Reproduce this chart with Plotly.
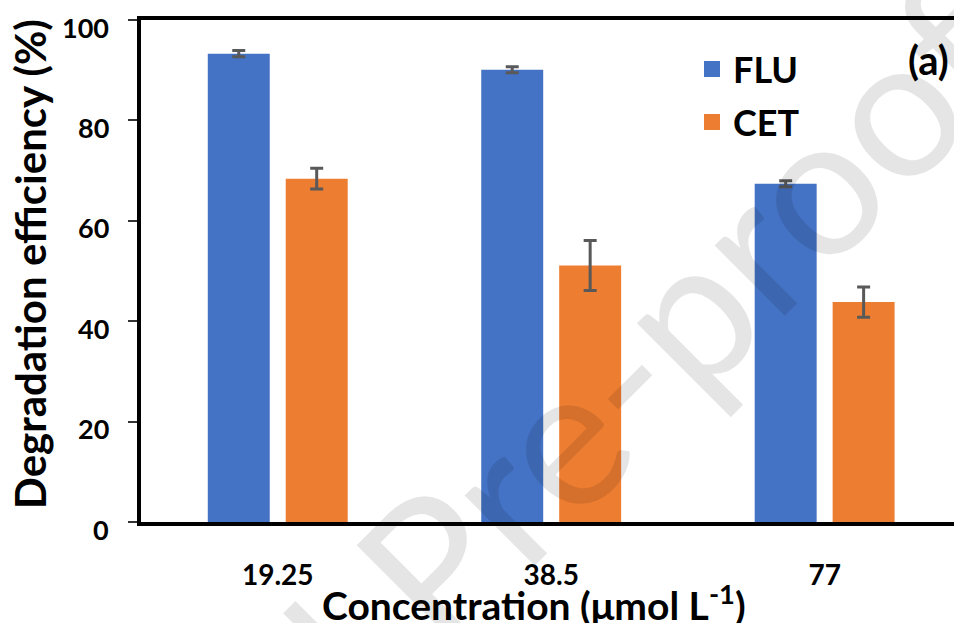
import plotly.graph_objects as go

categories = ["19.25", "38.5", "77"]
series_names = ["FLU", "CET"]
flu = [93.3, 90.1, 67.4]
cet = [68.4, 51.1, 43.8]
flu_err = [0.6, 0.6, 0.6]
cet_err = [2.05, 5.0, 3.0]
colors = ["#4472C4", "#ED7D31"]
y_ticks = [0, 20, 40, 60, 80, 100]

W, H = 954, 623
L, R, T, B = 141, 0, 20, 101
pw, ph = W - L - R, H - T - B


def px(x):
    return (x - L) / pw


def py(y):
    return (H - B - y) / ph


fig = go.Figure()
for name, vals, errs, col in [(series_names[0], flu, flu_err, colors[0]),
                              (series_names[1], cet, cet_err, colors[1])]:
    fig.add_trace(go.Bar(
        x=categories, y=vals, name=name, marker=dict(color=col, line=dict(width=0)),
        error_y=dict(type="data", array=errs, visible=True, color="#595959",
                     thickness=3, width=6.5),
        showlegend=False,
    ))

BOLD = dict(family="Lato", color="black", weight="bold")

fig.update_layout(
    width=W, height=H,
    margin=dict(l=L, r=R, t=T, b=B, pad=0),
    paper_bgcolor="white", plot_bgcolor="white",
    barmode="group", bargap=0.43, bargroupgap=0.205,
    xaxis=dict(type="category", range=[-0.5, 2.473], showline=True, linewidth=4,
               linecolor="black", mirror=True, ticks="", showgrid=False,
               tickfont=dict(size=28, **BOLD), ticklabelstandoff=25),
    yaxis=dict(range=[0, 100], tickvals=y_ticks, showline=True, linewidth=4,
               linecolor="black", ticks="outside", ticklen=9, tickwidth=1.5,
               tickcolor="#333333", showgrid=False, zeroline=False,
               showticklabels=False),
)

annotations = []
# y tick labels (drawn slightly below their ticks, as in the reference)
for v in y_ticks:
    annotations.append(dict(text=str(v), x=px(111), y=v, xref="paper", yref="y",
                            showarrow=False, xanchor="right", yanchor="middle", yshift=-7,
                            font=dict(size=27, **BOLD)))

annotations += [
    dict(text="Degradation efficiency (%)", x=px(30), y=py(264), xref="paper", yref="paper",
         textangle=-90, showarrow=False, xanchor="center", yanchor="middle",
         font=dict(size=42, **BOLD)),
    dict(text="Concentration (μmol L<sup>-1</sup>)", x=px(534), y=py(602), xref="paper",
         yref="paper", showarrow=False, xanchor="center", yanchor="middle",
         font=dict(size=39, **BOLD)),
    dict(text="(a)", x=px(928), y=py(60), xref="paper", yref="paper", showarrow=False,
         xanchor="center", yanchor="middle", font=dict(size=40, **BOLD)),
]
legend_rows = [69, 122]
for name, col, yc in zip(series_names, colors, legend_rows):
    fig.add_shape(type="rect", xref="paper", yref="paper", x0=px(704), x1=px(720),
                  y0=py(yc - 8), y1=py(yc + 8), fillcolor=col, line=dict(width=0))
    annotations.append(dict(text=name, x=px(731), y=py(yc), xref="paper", yref="paper",
                            showarrow=False, xanchor="left", yanchor="middle",
                            font=dict(size=36, **BOLD)))

annotations.append(dict(text="Journal Pre-proof", x=px(443), y=py(550), xref="paper",
                        yref="paper", showarrow=False, textangle=-45,
                        xanchor="center", yanchor="middle",
                        font=dict(family="Lato", size=196, color="rgba(0,0,0,0.1)")))
fig.update_layout(annotations=annotations)

fig.write_html("out.html")
